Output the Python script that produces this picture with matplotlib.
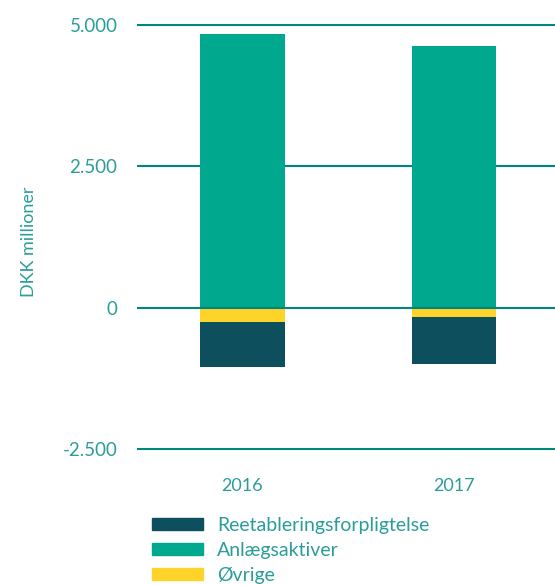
import matplotlib
matplotlib.use('Agg')
import matplotlib.pyplot as plt
import numpy as np
from matplotlib.patches import Patch

plt.rcParams['font.family'] = ['Lato', 'DejaVu Sans']

years = ['2016', '2017']
anlaeg = [4836, 4623]          # Anlægsaktiver (positive)
oevrige = [-253, -165]          # Øvrige (negative, nearest zero)
reetabl = [-796, -837]          # Reetableringsforpligtelse (negative, below Øvrige)

c_dark = '#0d4f5c'
c_green = '#00a88d'
c_yellow = '#ffd42a'
c_text = '#2a9d9a'
c_grid = '#00857f'

fig = plt.figure(figsize=(5.55, 5.85), dpi=100)
ax = fig.add_axes([0.2468, 0.2277, 0.7532, 0.7343])

x = np.arange(len(years))
w = 0.4
ax.bar(x, anlaeg, w, color=c_green, zorder=2)
ax.bar(x, oevrige, w, color=c_yellow, zorder=2)
ax.bar(x, reetabl, w, bottom=oevrige, color=c_dark, zorder=2)

ax.set_ylim(-2550, 5050)
ax.set_xlim(-0.499, 1.478)
yt = [-2500, 0, 2500, 5000]
ax.set_yticks(yt)
ax.set_yticklabels(['-2.500', '0', '2.500', '5.000'])
for v in yt:
    ax.axhline(v, color=c_grid, lw=1.5, zorder=3 if v == 0 else 1)

ax.set_xticks(x)
ax.set_xticklabels(years)
ax.tick_params(axis='both', length=0, colors=c_text, labelsize=13)
ax.tick_params(axis='x', pad=19)
ax.tick_params(axis='y', pad=14, labelsize=13.5)
for s in ax.spines.values():
    s.set_visible(False)

fig.text(0.053, 0.587, 'DKK millioner', rotation=90, color=c_text,
         fontsize=13, ha='center', va='center')

handles = [Patch(color=c_dark), Patch(color=c_green), Patch(color=c_yellow)]
labels = ['Reetableringsforpligtelse', 'Anlægsaktiver', 'Øvrige']
leg = fig.legend(handles, labels, loc='upper left', bbox_to_anchor=(0.274, 0.116),
                 frameon=False, fontsize=14, handlelength=2.6, handleheight=0.6,
                 handletextpad=0.75, labelspacing=0.4, borderpad=0, borderaxespad=0)
for t in leg.get_texts():
    t.set_color(c_text)

fig.savefig('out.png', dpi=100)
